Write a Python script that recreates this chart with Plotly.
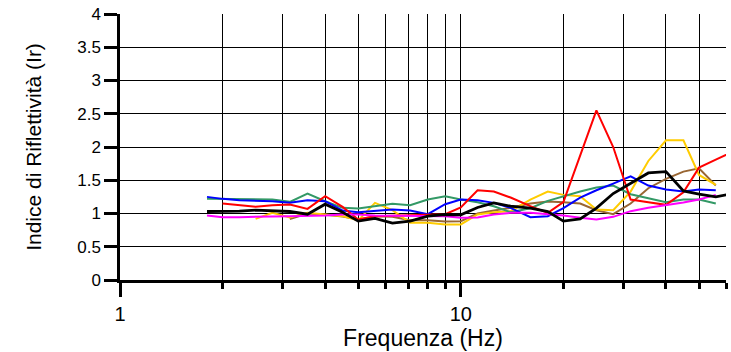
import math
import plotly.graph_objects as go

# Frequencies (Hz) of the data points (1/6-octave steps)
freq = [1.8, 2, 2.24, 2.5, 2.8, 3.15, 3.55, 4, 4.5, 5, 5.6, 6.3, 7.1, 8, 9, 10,
        11.2, 12.5, 14, 16, 18, 20, 22.4, 25, 28, 31.5, 35.5, 40, 45, 50, 56, 63]

black = [1.03, 1.03, 1.035, 1.05, 1.04, 1.03, 0.99, 1.14, 1.02, 0.885, 0.925, 0.855, 0.885, 0.96, 0.985, 0.98,
         1.09, 1.16, 1.11, 1.08, 1.03, 0.885, 0.92, 1.08, 1.30, 1.45, 1.61, 1.63, 1.34, 1.29, 1.25, 1.30]
red = [None, 1.15, 1.125, 1.10, 1.125, 1.135, 1.07, 1.26, 1.10, 0.91, 0.96, 0.97, 0.97, 0.985, 0.99, 1.09,
       1.35, 1.33, 1.24, 1.11, 1.01, 1.17, 1.87, 2.55, 2.0, 1.21, 1.17, 1.13, 1.32, 1.69, 1.81, 1.93]
blue = [1.25, 1.22, 1.20, 1.195, 1.185, 1.16, 1.20, 1.185, 1.045, 1.02, 1.035, 1.06, 1.045, 0.99, 1.14, 1.21,
        1.20, 1.16, 1.085, 0.945, 0.96, 1.08, 1.24, 1.35, 1.45, 1.56, 1.42, 1.36, 1.33, 1.36, 1.35, None]
green = [1.22, 1.215, 1.21, 1.21, 1.21, 1.175, 1.30, 1.185, 1.085, 1.075, 1.11, 1.145, 1.125, 1.21, 1.26, 1.21,
         1.17, 1.11, 1.02, 1.08, 1.19, 1.26, 1.33, 1.39, 1.42, 1.29, 1.23, 1.17, 1.21, 1.21, 1.15, None]
yellow = [None, None, None, 0.92, 1.01, 0.94, 1.01, 0.985, 0.96, 0.895, 1.16, 1.05, 0.86, 0.86, 0.835, 0.835,
          0.985, 1.02, 1.035, 1.21, 1.33, 1.28, 1.26, 1.06, 1.05, 1.33, 1.79, 2.10, 2.10, 1.58, 1.43, None]
brown = [None, None, None, None, None, 0.915, 1.0, 0.98, 0.955, 0.91, 0.96, 0.95, 0.90, 0.90, 0.88, 0.885,
         1.0, 1.045, 1.085, 1.15, 1.18, 1.17, 1.15, 1.05, 0.99, 1.15, 1.38, 1.52, 1.63, 1.68, 1.42, None]
magenta = [0.97, 0.945, 0.945, 0.945, 0.955, 0.96, 0.96, 0.97, 0.985, 0.985, 0.97, 0.97, 0.96, 0.97, 0.96, 0.935,
           0.94, 0.985, 1.01, 1.01, 0.99, 0.97, 0.935, 0.91, 0.95, 1.035, 1.085, 1.12, 1.165, 1.21, 1.28, None]

x_major = [1, 10]
x_major_text = ["1", "10"]
x_minor = [2, 3, 4, 5, 6, 7, 8, 9, 20, 30, 40, 50, 60]
y_ticks = [0, 0.5, 1, 1.5, 2, 2.5, 3, 3.5, 4]
y_text = ["0", "0.5", "1", "1.5", "2", "2.5", "3", "3.5", "4"]

series = [
    ("brown", brown, "#996633", 2),
    ("yellow", yellow, "#FFCC00", 2),
    ("green", green, "#339966", 2),
    ("blue", blue, "#0000FF", 2),
    ("red", red, "#FF0000", 2),
    ("magenta", magenta, "#FF00FF", 2),
    ("black", black, "#000000", 2.8),
]

FONT = "Liberation Sans, Arial, sans-serif"
xr = [0, math.log10(60)]

fig = go.Figure()
for name, vals, col, w in series:
    fig.add_trace(go.Scatter(x=freq, y=vals, mode="lines", name=name,
                             line=dict(color=col, width=w), connectgaps=False))

fig.update_layout(
    width=731, height=352,
    margin=dict(l=120, r=5, t=14, b=72, autoexpand=False),
    plot_bgcolor="white", paper_bgcolor="white",
    showlegend=False,
    font=dict(family=FONT, color="black"),
    xaxis=dict(
        type="log", range=xr, automargin=False,
        tickmode="array", tickvals=x_major, ticktext=x_major_text,
        ticks="outside", ticklen=14, tickwidth=2.5, tickcolor="black",
        tickfont=dict(size=20, family=FONT, color="black"),
        showline=True, linecolor="black", linewidth=3,
        showgrid=True, gridcolor="black", gridwidth=1, zeroline=False,
        minor=dict(tickmode="array", tickvals=x_minor, ticks="outside", ticklen=6,
                   tickwidth=2.5, tickcolor="black",
                   showgrid=True, gridcolor="black", gridwidth=1),
        title=dict(text="Frequenza (Hz)", font=dict(size=23, family=FONT, color="black"), standoff=0),
    ),
    yaxis=dict(
        range=[0, 4], automargin=False, tickmode="array", tickvals=y_ticks, ticktext=y_text,
        ticks="outside", ticklen=13, tickwidth=2.5, tickcolor="black",
        tickfont=dict(size=17, family=FONT, color="black"), ticklabeloverflow="allow",
        showline=True, linecolor="black", linewidth=2.5,
        showgrid=True, gridcolor="black", gridwidth=1, zeroline=False,
        title=dict(text="Indice di Riflettività (Ir)", font=dict(size=21, family=FONT, color="black"), standoff=30),
    ),
    xaxis2=dict(
        type="log", range=xr, overlaying="x", anchor="y", side="bottom", automargin=False,
        tickmode="array", tickvals=x_major + x_minor, ticks="inside", ticklen=5,
        tickwidth=2.5, tickcolor="black", showticklabels=False,
        showgrid=False, showline=False, zeroline=False,
    ),
    yaxis2=dict(
        range=[0, 4], overlaying="y", anchor="x", side="left", automargin=False,
        tickmode="array", tickvals=y_ticks, ticks="inside", ticklen=4,
        tickwidth=2.5, tickcolor="black", showticklabels=False,
        showgrid=False, showline=False, zeroline=False,
    ),
)

# remove the default 8px page margin so the 731x352 figure fills the window exactly
fig.write_html("out.html", config={"displayModeBar": False},
               post_script="document.body.style.margin='0px';")
